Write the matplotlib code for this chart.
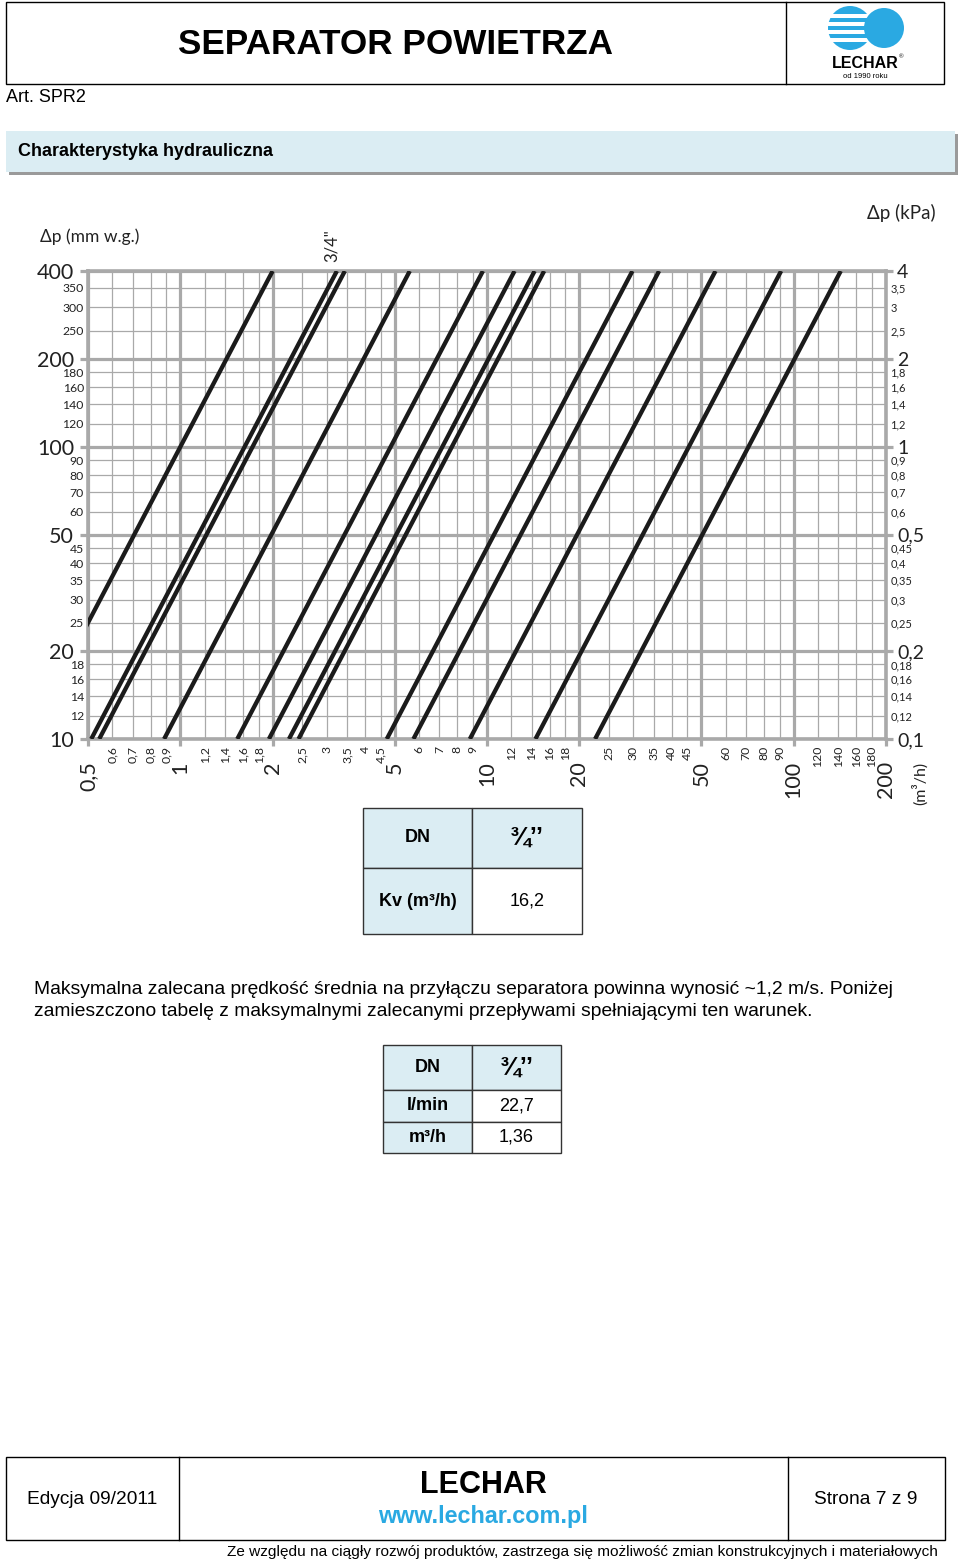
import numpy as np
import matplotlib.pyplot as plt
from matplotlib.patches import Rectangle, Circle

# =========================
# DATA
# =========================
# Kv of each characteristic line (m3/h)
kv_values = [10, 16.2, 17.2, 28, 48.5, 61.5, 71.5, 76.8, 149, 182, 278, 455, 712]
dp_range_mm = [10, 400]

x_major = [0.5, 1, 2, 5, 10, 20, 50, 100, 200]
x_minor = [0.6, 0.7, 0.8, 0.9, 1.2, 1.4, 1.6, 1.8, 2.5, 3, 3.5, 4, 4.5,
           6, 7, 8, 9, 12, 14, 16, 18, 25, 30, 35, 40, 45,
           60, 70, 80, 90, 120, 140, 160, 180]
y_major = [10, 20, 50, 100, 200, 400]
y_minor = [12, 14, 16, 18, 25, 30, 35, 40, 45, 60, 70, 80, 90,
           120, 140, 160, 180, 250, 300, 350]
kpa_major = [0.1, 0.2, 0.5, 1, 2, 4]
kpa_minor = [0.12, 0.14, 0.16, 0.18, 0.25, 0.3, 0.35, 0.4, 0.45, 0.6, 0.7,
             0.8, 0.9, 1.2, 1.4, 1.6, 1.8, 2.5, 3, 3.5]

table1_rows = [["DN", "¾’’"], ["Kv (m³/h)", "16,2"]]
table2_rows = [["DN", "¾’’"], ["l/min", "22,7"], ["m³/h", "1,36"]]


def pl(v):
    return f"{v:g}".replace(".", ",")


GRID = "#a9a9a9"
BLUE = "#dbedf3"
CYAN = "#2aa9e2"
SANS = ["Liberation Sans", "DejaVu Sans"]
CHART_FONT = ["Lato", "DejaVu Sans"]

W, H = 960, 1563
fig = plt.figure(figsize=(W / 100, H / 100), dpi=100)

# =========================
# PAGE LAYER (pixel coords)
# =========================
page = fig.add_axes([0, 0, 1, 1])
page.set_xlim(0, W)
page.set_ylim(H, 0)
page.axis("off")

# header
page.add_patch(Rectangle((6, 2), 938, 82, fill=False, ec="black", lw=1))
page.plot([786, 786], [2, 84], color="black", lw=1)
page.text(396, 44, "SEPARATOR POWIETRZA", ha="center", va="center",
          fontsize=25.3, fontweight="bold", family=SANS)
page.text(6, 97, "Art. SPR2", ha="left", va="center", fontsize=13, family=SANS)

# logo
page.add_patch(Circle((850, 28), 22, color=CYAN, lw=0))
for yy in [16, 24, 32, 40]:
    page.add_patch(Rectangle((826, yy - 1.6), 50, 3.2, color="white", lw=0))
page.add_patch(Circle((884, 28), 20, color=CYAN, lw=0))
page.text(865, 64, "LECHAR", ha="center", va="center", fontsize=11.5,
          fontweight="bold", family=SANS)
page.text(899, 57, "®", ha="left", va="center", fontsize=4.5, family=SANS)
page.text(865, 76, "od 1990 roku", ha="center", va="center", fontsize=5.5,
          family=SANS)

# section band
page.add_patch(Rectangle((9, 134), 949, 41, color="#9a9a9a", lw=0))
page.add_patch(Rectangle((6, 131), 949, 41, color=BLUE, lw=0))
page.text(18, 151, "Charakterystyka hydrauliczna", ha="left", va="center",
          fontsize=13, fontweight="bold", family=SANS)

# =========================
# CHART
# =========================
x0, x1, y0, y1 = 88, 886, 271, 739
ax = fig.add_axes([x0 / W, 1 - y1 / H, (x1 - x0) / W, (y1 - y0) / H])
ax.set_xscale("log")
ax.set_yscale("log")
ax.set_xlim(0.5, 200)
ax.set_ylim(10, 400)

for kv in kv_values:
    q = [kv * np.sqrt(dp / 10000) for dp in dp_range_mm]
    ax.plot(q, dp_range_mm, color="#1b1b1b", lw=3.1, solid_capstyle="butt",
            zorder=3)

ax.set_xticks(x_major, [pl(v) for v in x_major])
ax.set_xticks(x_minor, [pl(v) for v in x_minor], minor=True)
ax.set_yticks(y_major, [pl(v) for v in y_major])
ax.set_yticks(y_minor, [pl(v) for v in y_minor], minor=True)

ax.grid(which="major", color=GRID, lw=2.3, zorder=1)
ax.grid(which="minor", color=GRID, lw=0.9, zorder=1)
ax.set_axisbelow(True)

ax.tick_params(axis="x", which="major", length=5, width=2.3, color=GRID,
               labelrotation=90, pad=11, labelsize=15.5)
ax.tick_params(axis="x", which="minor", length=0, labelrotation=90, pad=5,
               labelsize=8.8)
ax.tick_params(axis="y", which="major", length=6, width=2.3, color=GRID,
               pad=4, labelsize=15.5)
ax.tick_params(axis="y", which="minor", length=0, pad=3, labelsize=8.8)
for lab in ax.get_xticklabels(which="both") + ax.get_yticklabels(which="both"):
    lab.set_family(CHART_FONT)
    lab.set_color("#222222")
for s in ax.spines.values():
    s.set_color(GRID)
    s.set_linewidth(2.6)

ax2 = ax.twinx()
ax2.set_yscale("log")
ax2.set_ylim(0.1, 4)
ax2.set_yticks(kpa_major, [pl(v) for v in kpa_major])
ax2.set_yticks(kpa_minor, [pl(v) for v in kpa_minor], minor=True)
ax2.tick_params(axis="y", which="major", length=5, width=2.3, color=GRID,
                pad=3, labelsize=14)
ax2.tick_params(axis="y", which="minor", length=0, pad=3, labelsize=8)
for lab in ax2.get_yticklabels(which="both"):
    lab.set_family(CHART_FONT)
    lab.set_color("#222222")
for s in ax2.spines.values():
    s.set_visible(False)

page.text(40, 237, "Δp (mm w.g.)", ha="left", va="center", fontsize=12.5,
          family=CHART_FONT, color="#222222")
page.text(936, 213, "Δp (kPa)", ha="right", va="center", fontsize=13.5,
          family=CHART_FONT, color="#222222")
page.text(332, 262, "3/4\"", ha="center", va="bottom", rotation=90,
          fontsize=12, family=CHART_FONT, color="#222222")
page.text(920, 805, "(m³/h)", ha="center", va="bottom", rotation=90,
          fontsize=11.5, family=CHART_FONT, color="#222222")

# =========================
# TABLES
# =========================
def draw_table(rows, left, mid, right, row_edges):
    for i, (a, b) in enumerate(rows):
        top, bot = row_edges[i], row_edges[i + 1]
        page.add_patch(Rectangle((left, top), mid - left, bot - top,
                                 fc=BLUE, ec="#333333", lw=1))
        page.add_patch(Rectangle((mid, top), right - mid, bot - top,
                                 fc=BLUE if i == 0 else "white",
                                 ec="#333333", lw=1))
        cy = (top + bot) / 2
        page.text((left + mid) / 2, cy, a, ha="center", va="center",
                  fontsize=13, fontweight="bold", family=SANS)
        page.text((mid + right) / 2, cy, b, ha="center", va="center",
                  fontsize=18 if i == 0 else 13,
                  fontweight="bold" if i == 0 else "normal", family=SANS)


draw_table(table1_rows, 363, 472, 582, [808, 868, 934])

page.text(34, 990, "Maksymalna zalecana prędkość średnia na przyłączu separatora "
          "powinna wynosić ~1,2 m/s. Poniżej", ha="left", va="center",
          fontsize=13.9, family=SANS)
page.text(34, 1012, "zamieszczono tabelę z maksymalnymi zalecanymi przepływami "
          "spełniającymi ten warunek.", ha="left", va="center",
          fontsize=13.9, family=SANS)

draw_table(table2_rows, 383, 472, 561, [1045, 1090, 1122, 1153])

# =========================
# FOOTER
# =========================
page.add_patch(Rectangle((6, 1457), 939, 83, fill=False, ec="black", lw=1))
page.plot([179, 179], [1457, 1540], color="black", lw=1)
page.plot([788, 788], [1457, 1540], color="black", lw=1)
page.text(92, 1499, "Edycja 09/2011", ha="center", va="center", fontsize=13.8,
          family=SANS)
page.text(483, 1485, "LECHAR", ha="center", va="center", fontsize=22,
          fontweight="bold", family=SANS)
page.text(483, 1517, "www.lechar.com.pl", ha="center", va="center",
          fontsize=16.8, fontweight="bold", color=CYAN, family=SANS)
page.text(866, 1499, "Strona 7 z 9", ha="center", va="center", fontsize=13.8,
          family=SANS)
page.text(938, 1552, "Ze względu na ciągły rozwój produktów, zastrzega się "
          "możliwość zmian konstrukcyjnych i materiałowych", ha="right",
          va="center", fontsize=11.1, family=SANS)

fig.savefig("out.png", dpi=100)
